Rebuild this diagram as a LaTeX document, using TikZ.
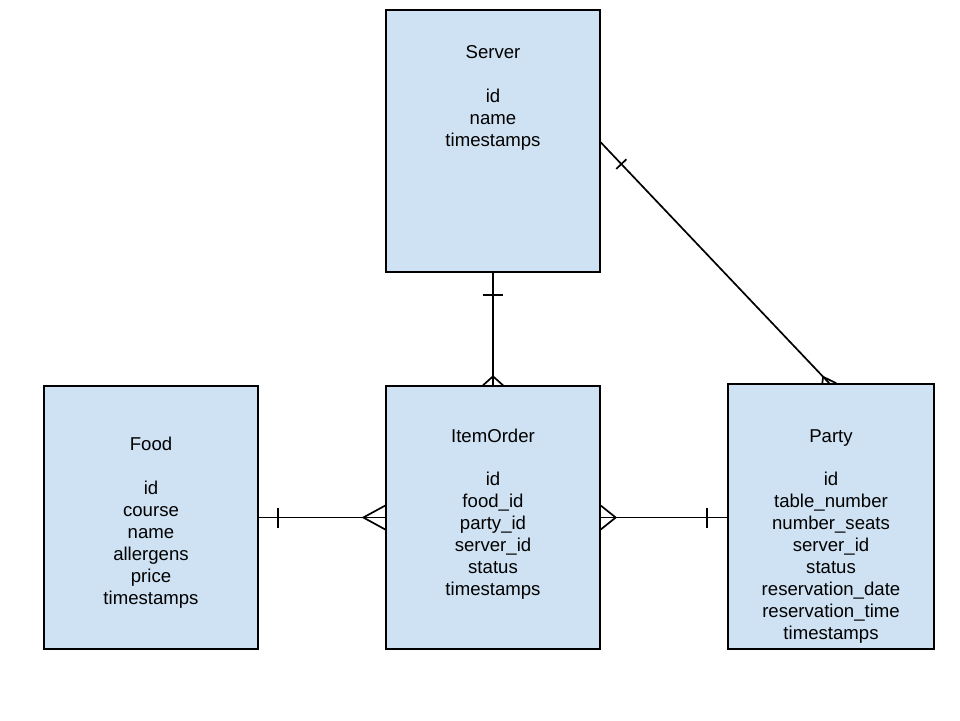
\documentclass[tikz,border=0pt]{standalone}
\usepackage{fontspec}
\setmainfont{Liberation Sans}
\usetikzlibrary{calc}
\definecolor{tablefill}{HTML}{CFE2F3}
\begin{document}
\begin{tikzpicture}[x=1pt,y=-1pt,
  entity/.style={draw=black,line width=1.4pt,fill=tablefill,inner sep=0pt,
    minimum width=214pt,minimum height=263pt},
  fields/.style={anchor=north,align=center,inner sep=0pt,
    font=\fontsize{18.6}{22}\selectfont},
  conn/.style={line width=1.7pt,line join=miter}]
\useasboundingbox (0,0) rectangle (960,720);

% tables
\node[entity,minimum height=262pt] (server) at (493,141) {};
\node[entity] (food) at (151,517.5) {};
\node[entity] (item) at (493,517.5) {};
\node[entity,minimum width=206pt,minimum height=265pt] (party) at (831,516.5) {};

% column lists
\node[fields] (servertxt) at ($(server.north)+(0,36)$) {Server\\[22pt]id\\name\\timestamps};
\node[fields] (foodtxt) at ($(food.north)+(0,52)$) {Food\\[22pt]id\\course\\name\\allergens\\price\\timestamps};
\node[fields] (itemtxt) at ($(item.north)+(0,44)$) {ItemOrder\\[21pt]id\\food\_id\\party\_id\\server\_id\\status\\timestamps};
\node[fields] (partytxt) at ($(party.north)+(0,46)$) {Party\\[21pt]id\\table\_number\\number\_seats\\server\_id\\status\\reservation\_date\\reservation\_time\\timestamps};

% Server -- ItemOrder (one to many)
\draw[conn] (server.south) -- (item.north);
\draw[conn] ($(server.south)+(-10,22)$) -- ($(server.south)+(10,22)$);
\draw[conn] ($(item.north)+(-10,0)$) -- ($(item.north)+(0,-9)$) -- ($(item.north)+(10,0)$);

% Food -- ItemOrder (one to many)
\draw[conn] (food.east) -- (item.west);
\draw[conn] ($(food.east)+(19,-10)$) -- ($(food.east)+(19,10)$);
\draw[conn] ($(item.west)+(0,-12)$) -- ($(item.west)+(-22,0)$) -- ($(item.west)+(0,12)$);

% ItemOrder -- Party (many to one)
\coordinate (ip) at (item.east -| party.west);
\draw[conn] (item.east) -- (ip);
\draw[conn] ($(ip)+(-20,-10)$) -- ($(ip)+(-20,10)$);
\draw[conn] ($(item.east)+(0,-12)$) -- ($(item.east)+(15,0)$) -- ($(item.east)+(0,12)$);

% Server -- Party (one to many)
\coordinate (sp1) at ($(server.north east)+(0,133)$);
\coordinate (sp2) at ($(party.north west)+(102,0)$);
\draw[conn] (sp1) -- (sp2);
\draw[conn] ($(sp1)!30pt!(sp2)!7pt!90:(sp2)$) -- ($(sp1)!30pt!(sp2)!7pt!-90:(sp2)$);
\draw[conn] ($(sp2)+(-7,0)$) -- ($(sp2)!9pt!(sp1)$) -- ($(sp2)+(7,0)$);
\end{tikzpicture}
\end{document}
